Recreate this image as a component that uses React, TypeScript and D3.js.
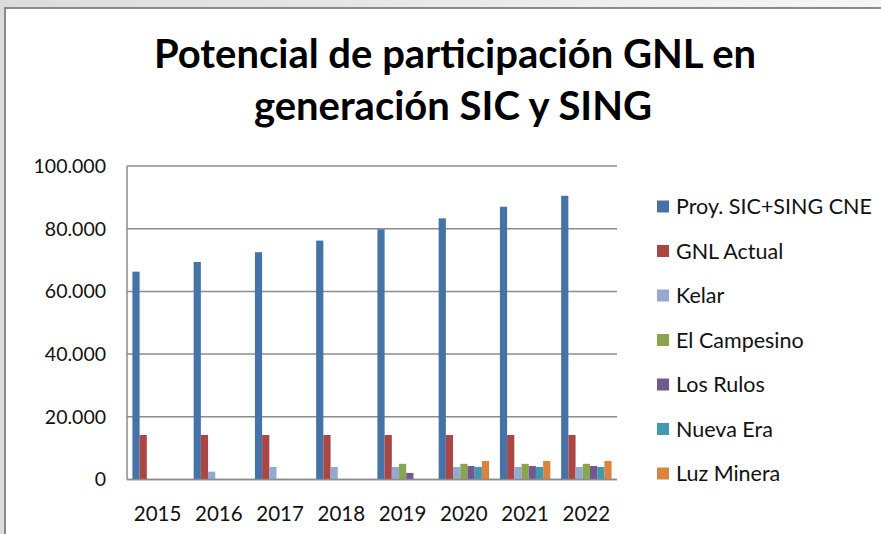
import React from "react";
import * as d3 from "d3";

const years = ["2015", "2016", "2017", "2018", "2019", "2020", "2021", "2022"];
const seriesNames = [
  "Proy. SIC+SING CNE",
  "GNL Actual",
  "Kelar",
  "El Campesino",
  "Los Rulos",
  "Nueva Era",
  "Luz Minera",
];
const proy = [66300, 69400, 72500, 76200, 79800, 83300, 87000, 90500];
const gnlActual = [14200, 14200, 14200, 14200, 14200, 14200, 14200, 14200];
const kelar = [0, 2500, 4000, 4000, 4000, 4000, 4000, 4000];
const campesino = [0, 0, 0, 0, 5000, 5000, 5000, 5000];
const rulos = [0, 0, 0, 0, 2100, 4300, 4300, 4300];
const nuevaEra = [0, 0, 0, 0, 0, 4000, 4000, 4000];
const luzMinera = [0, 0, 0, 0, 0, 5900, 5900, 5900];
const yTicks = [0, 20000, 40000, 60000, 80000, 100000];

const colors = ["#4572A7", "#AA4643", "#93A9CF", "#89A54E", "#71588F", "#4198AF", "#DB843D"];

const W = 881;
const H = 534;
const plot = { left: 127, right: 617, top: 166, bottom: 479.5 };
const font = "Lato, 'Open Sans', sans-serif";

const App = () => {
  const values = [proy, gnlActual, kelar, campesino, rulos, nuevaEra, luzMinera];

  const x0 = d3.scaleBand<string>().domain(years).range([plot.left, plot.right]).padding(0);
  const x1 = d3
    .scaleBand<string>()
    .domain(seriesNames)
    .range([0, x0.bandwidth()])
    .paddingInner(0)
    .paddingOuter(0.75);
  const y = d3.scaleLinear().domain([0, 100000]).range([plot.bottom, plot.top]);

  // thousands with a dot, like the spanish excel original
  const fmt = d3.formatLocale({ decimal: ",", thousands: ".", grouping: [3], currency: ["", ""] }).format(",d");

  return (
    <svg
      width={W}
      height={H}
      style={{ position: "fixed", left: 0, top: 0, display: "block" }}
      fontFamily={font}
    >
      <defs>
        <linearGradient id="bg" x1="0" x2="1" y1="0" y2="0">
          <stop offset="0" stopColor="#dcdcdc" />
          <stop offset="1" stopColor="#f6f6f6" />
        </linearGradient>
      </defs>
      <rect x={0} y={0} width={W} height={H} fill="url(#bg)" />
      {/* chart frame */}
      <rect x={5} y={8} width={W + 10} height={H + 10} fill="#fff" stroke="#8a8a8a" strokeWidth={2} />

      {/* title */}
      <text x={455} y={68} textAnchor="middle" fontSize={40} fontWeight="bold" fill="#000">
        Potencial de participación GNL en
      </text>
      <text x={453} y={120} textAnchor="middle" fontSize={40} fontWeight="bold" fill="#000">
        generación SIC y SING
      </text>

      {/* gridlines + y labels */}
      {yTicks.map((t) => (
        <g key={t}>
          <line x1={plot.left} x2={plot.right} y1={y(t)} y2={y(t)} stroke="#8c8c8c" strokeWidth={1.5} />
          <text x={106} y={y(t)} dy="0.35em" textAnchor="end" fontSize={19.5} fill="#111">
            {fmt(t)}
          </text>
        </g>
      ))}
      <line x1={plot.left} x2={plot.left} y1={plot.top} y2={plot.bottom} stroke="#8c8c8c" strokeWidth={1.5} />

      {/* bars */}
      {years.map((yr, i) => (
        <g key={yr} transform={`translate(${x0(yr)},0)`}>
          {seriesNames.map((s, j) =>
            values[j][i] > 0 ? (
              <rect
                key={s}
                x={x1(s)}
                y={y(values[j][i])}
                width={x1.bandwidth()}
                height={y(0) - y(values[j][i])}
                fill={colors[j]}
              />
            ) : null
          )}
        </g>
      ))}
      <line x1={plot.left} x2={plot.right} y1={y(0)} y2={y(0)} stroke="#8c8c8c" strokeWidth={1.5} />

      {/* x labels */}
      {years.map((yr) => (
        <text key={yr} x={(x0(yr) || 0) + x0.bandwidth() / 2} y={521} textAnchor="middle" fontSize={20.5} fill="#111">
          {yr}
        </text>
      ))}

      {/* legend */}
      {seriesNames.map((s, j) => (
        <g key={s} transform={`translate(657,${206.5 + j * 44.5})`}>
          <rect x={0} y={-6} width={12} height={12} fill={colors[j]} />
          <text x={19} y={0} dy="0.35em" fontSize={21.5} fill="#111">
            {s}
          </text>
        </g>
      ))}
    </svg>
  );
};

export default App;
